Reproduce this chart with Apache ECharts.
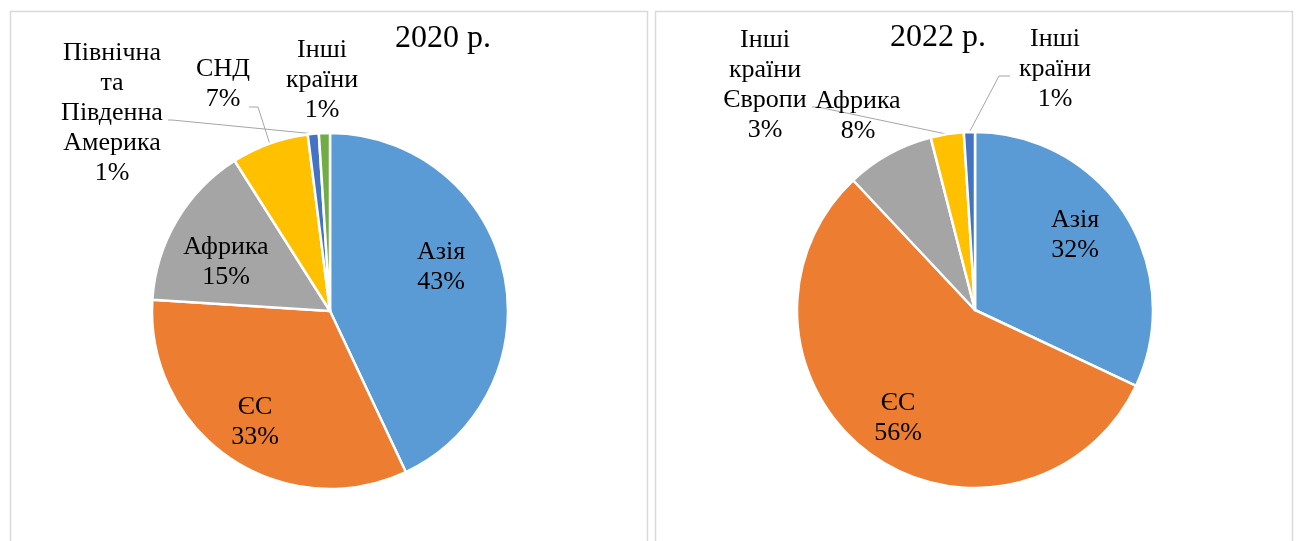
<!DOCTYPE html>
<html>
<head>
<meta charset="utf-8">
<title>Структура експорту 2020 / 2022</title>
<script src="https://cdn.jsdelivr.net/npm/echarts@6/dist/echarts.min.js"></script>
<style>
  html, body { margin: 0; padding: 0; background: #fff; }
  #chart { width: 1296px; height: 541px; }
</style>
</head>
<body>
<div id="chart"></div>
<script>
// data (shares, %)
const regions2020 = ['Азія', 'ЄС', 'Африка', 'СНД', 'Північна та Південна Америка', 'Інші країни'];
const shares2020 = [43, 33, 15, 7, 1, 1];
const colors2020 = ['#5B9BD5', '#ED7D31', '#A5A5A5', '#FFC000', '#4472C4', '#70AD47'];

const regions2022 = ['Азія', 'ЄС', 'Африка', 'Інші країни Європи', 'Інші країни'];
const shares2022 = [32, 56, 8, 3, 1];
const colors2022 = ['#5B9BD5', '#ED7D31', '#A5A5A5', '#FFC000', '#4472C4'];

const titles = ['2020 р.', '2022 р.'];

// pie geometry
const R = 178;
const centers = [[330, 311], [975, 310]];
const fontFamily = '"Liberation Serif", "Times New Roman", serif';

// where Excel put the data labels (label centre + leader line bend/end)
const labelPos = {
  '0-0': { x: 441, y: 267 },
  '0-1': { x: 255, y: 422 },
  '0-2': { x: 226, y: 262 },
  '0-3': { x: 223, y: 84, line: [[258, 107], [249, 107]] },
  '0-4': { x: 112, y: 113, line: [[172, 120], [168, 120]] },
  '0-5': { x: 322, y: 80 },
  '1-0': { x: 1075, y: 235 },
  '1-1': { x: 898, y: 418 },
  '1-2': { x: 858, y: 116 },
  '1-3': { x: 765, y: 85, line: [[818, 107], [812, 107]] },
  '1-4': { x: 1055, y: 69, line: [[999, 76], [1010, 76]] }
};

function buildData(si, names, values, colors) {
  return names.map((name, i) => {
    const o = labelPos[si + '-' + i];
    return {
      name: name,
      value: values[i],
      itemStyle: { color: colors[i] },
      label: { position: o.line ? 'outside' : 'inside' },
      labelLine: { show: !!o.line }
    };
  });
}

function labelLayout(params) {
  const o = labelPos[params.seriesIndex + '-' + params.dataIndex];
  const res = { x: o.x, y: o.y, align: 'center', verticalAlign: 'middle' };
  if (o.line && params.labelLinePoints) {
    // keep the library's anchor on the slice edge
    res.labelLinePoints = [params.labelLinePoints[0], o.line[0], o.line[1]];
  }
  return res;
}

function pieSeries(si, names, values, colors) {
  return {
    type: 'pie',
    center: centers[si],
    radius: R,
    startAngle: 90,
    clockwise: true,
    avoidLabelOverlap: false,
    itemStyle: { borderColor: '#fff', borderWidth: 2.5 },
    label: {
      color: '#000',
      fontFamily: fontFamily,
      fontSize: 26,
      lineHeight: 30,
      align: 'center',
      formatter: (p) => p.name.split(' ').join('\n') + '\n' + Math.round(p.percent) + '%'
    },
    labelLine: {
      length: 10,
      length2: 10,
      smooth: false,
      lineStyle: { color: '#A6A6A6', width: 1 }
    },
    labelLayout: labelLayout,
    emphasis: { disabled: true },
    data: buildData(si, names, values, colors)
  };
}

const chart = echarts.init(document.getElementById('chart'));
const option = {
  animation: false,
  backgroundColor: '#fff',
  title: [
    { text: titles[0], left: 438, top: 18, textAlign: 'center',
      textStyle: { fontFamily: fontFamily, fontSize: 32, fontWeight: 'normal', color: '#000' } },
    { text: titles[1], left: 933, top: 17, textAlign: 'center',
      textStyle: { fontFamily: fontFamily, fontSize: 32, fontWeight: 'normal', color: '#000' } }
  ],
  graphic: [
    { type: 'rect', silent: true, z: -1,
      shape: { x: 10.5, y: 11.5, width: 637, height: 560 },
      style: { fill: null, stroke: '#D9D9D9', lineWidth: 1.5 } },
    { type: 'rect', silent: true, z: -1,
      shape: { x: 655.5, y: 11.5, width: 637, height: 560 },
      style: { fill: null, stroke: '#D9D9D9', lineWidth: 1.5 } }
  ],
  series: [
    pieSeries(0, regions2020, shares2020, colors2020),
    pieSeries(1, regions2022, shares2022, colors2022)
  ]
};
chart.setOption(option);
</script>
</body>
</html>
